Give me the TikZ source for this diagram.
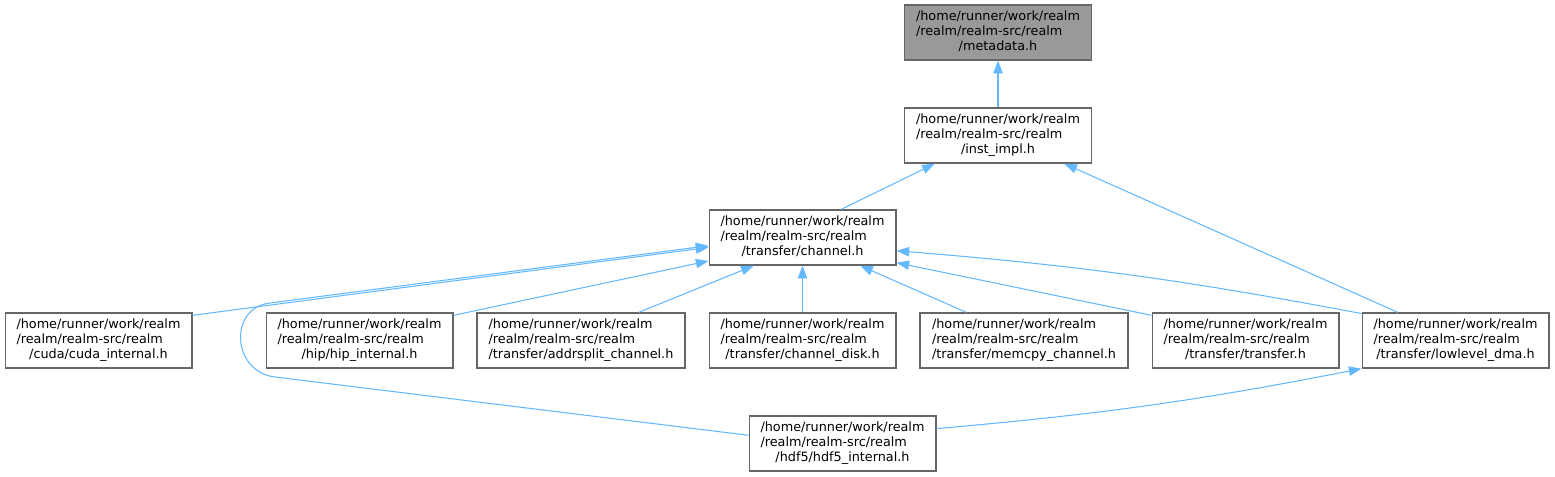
\documentclass[tikz,border=0pt]{standalone}
\usepackage{fontspec}
\setmainfont{DejaVu Sans}
\usetikzlibrary{arrows.meta}
\definecolor{edgeblue}{HTML}{63B8FF}
\definecolor{boxgray}{HTML}{666666}
\definecolor{rootgray}{HTML}{999999}
\newcommand{\realmpath}[1]{\begin{tabular}{@{}l@{}}/home/runner/work/realm\\/realm/realm-src/realm\\\multicolumn{1}{@{}c@{}}{#1}\end{tabular}}
\begin{document}
\begin{tikzpicture}[x=0.75pt, y=-0.75pt,
    file/.style={draw=boxgray, line width=1pt, fill=white, minimum width=140pt, minimum height=41.25pt, inner sep=2pt, font=\fontsize{9.6}{11.25}\selectfont},
    wide/.style={minimum width=156pt},
    dep/.style={draw=edgeblue, line width=0.8pt, -{Triangle[length=9.5pt, width=7pt]}}]
    \useasboundingbox (0,0) rectangle (1555,476);

    % Top of the graph
    \node[file, fill=rootgray] (metadata) at (998, 32.5) {\realmpath{/metadata.h}};
    \node[file] (instimpl) at (998, 135.5) {\realmpath{/inst\_impl.h}};
    \node[file] (channel) at (802.5, 237.5) {\realmpath{/transfer/channel.h}};

    % Files including channel.h
    \node[file] (cuda) at (98.5, 340.5) {\realmpath{/cuda/cuda\_internal.h}};
    \node[file] (hip) at (359.5, 340.5) {\realmpath{/hip/hip\_internal.h}};
    \node[file, wide] (addrsplit) at (581, 340.5) {\realmpath{/transfer/addrsplit\_channel.h}};
    \node[file] (disk) at (802.5, 340.5) {\realmpath{/transfer/channel\_disk.h}};
    \node[file, wide] (memcpy) at (1024, 340.5) {\realmpath{/transfer/memcpy\_channel.h}};
    \node[file] (transfer) at (1245.5, 340.5) {\realmpath{/transfer/transfer.h}};
    \node[file] (lowlevel) at (1455.5, 340.5) {\realmpath{/transfer/lowlevel\_dma.h}};
    \node[file] (hdf5) at (842.5, 443.5) {\realmpath{/hdf5/hdf5\_internal.h}};

    % Includes
    \draw[dep] (instimpl) -- (metadata);
    \draw[dep] (channel.36) -- (instimpl.204);
    \draw[dep] (lowlevel.154) -- (instimpl.337);
    \draw[dep] (cuda.15) -- (channel.186);
    \draw[dep] (hdf5.175) -- (275, 377) .. controls (232, 372) and (228, 308) .. (270, 303)
        -- (channel.185);
    \draw[dep] (hip.15) -- (channel.194);
    \draw[dep] (addrsplit.26) -- (channel.210);
    \draw[dep] (disk) -- (channel);
    \draw[dep] (memcpy.154) -- (channel.334);
    \draw[dep] (transfer.165) -- (channel.345);
    \draw[dep] (lowlevel.164) to[bend right=3] (channel.352);
    \draw[dep] (hdf5.9) to[bend right=3] (lowlevel.south west);
\end{tikzpicture}
\end{document}
